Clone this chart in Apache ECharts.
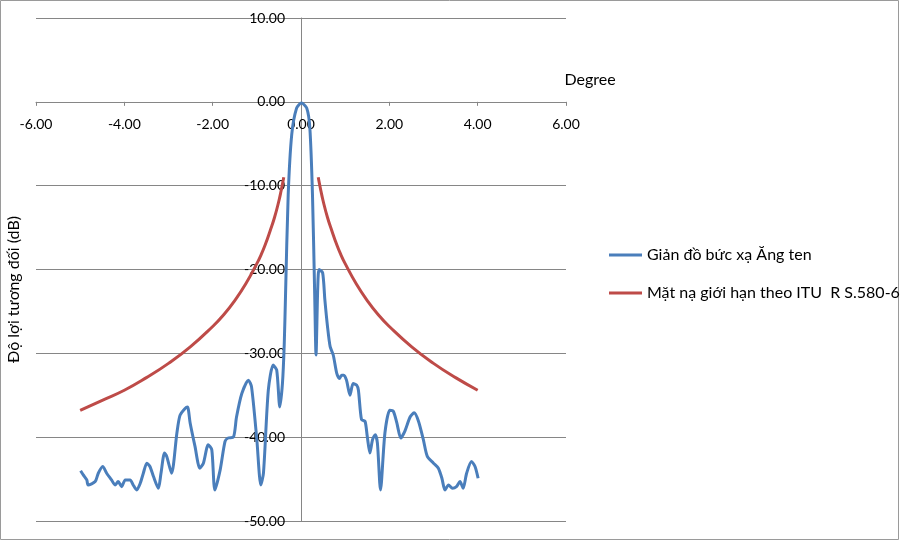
<!DOCTYPE html>
<html lang="vi">
  <head>
    <meta charset="utf-8" />
    <title>Giản đồ bức xạ Ăng ten</title>
    <script src="https://cdn.jsdelivr.net/npm/echarts@6/dist/echarts.min.js"></script>
    <style>
      html, body { margin: 0; padding: 0; background: #fff; }
      #main { width: 900px; height: 542px; }
    </style>
  </head>
  <body>
    <div id="main"></div>
  </body>
  <script>
    // đo bức xạ (độ, dB)
    const patternDeg = [-4.99, -4.93, -4.85, -4.82, -4.66, -4.59, -4.49, -4.40, -4.29, -4.21, -4.14, -4.06,
      -3.98, -3.87, -3.80, -3.72, -3.64, -3.57, -3.49, -3.42, -3.34, -3.23, -3.17, -3.09, -3.04, -2.93,
      -2.81, -2.74, -2.63, -2.57, -2.51, -2.40, -2.29, -2.21, -2.10, -2.02, -1.95, -1.83, -1.72, -1.65,
      -1.53, -1.46, -1.34, -1.19, -1.12, -1.00, -0.91, -0.85, -0.74, -0.63, -0.55, -0.48, -0.42, -0.38,
      -0.35, -0.29, -0.21, -0.10, 0.01, 0.13, 0.20, 0.26, 0.31, 0.34, 0.38, 0.41, 0.49, 0.54, 0.60, 0.66,
      0.73, 0.81, 0.87, 0.92, 0.97, 1.03, 1.11, 1.18, 1.26, 1.30, 1.37, 1.45, 1.50, 1.56, 1.62, 1.68, 1.73,
      1.80, 1.90, 2.01, 2.09, 2.17, 2.26, 2.35, 2.47, 2.56, 2.66, 2.77, 2.86, 3.00, 3.11, 3.19, 3.26, 3.34,
      3.43, 3.52, 3.60, 3.67, 3.75, 3.86, 3.94, 4.01];
    const patternGain = [-44.0, -44.5, -45.1, -45.7, -45.3, -44.3, -43.5, -44.3, -45.1, -45.7, -45.3, -45.9,
      -45.1, -45.1, -45.7, -46.3, -45.5, -44.3, -43.1, -43.5, -44.7, -46.1, -44.3, -41.9, -42.3, -44.3,
      -39.5, -37.4, -36.6, -36.4, -38.3, -41.1, -43.7, -43.1, -40.9, -41.5, -46.3, -43.9, -40.5, -40.1,
      -40.0, -37.6, -34.8, -33.2, -34.0, -40.3, -45.7, -44.3, -34.4, -31.4, -32.0, -36.4, -33.6, -29.0,
      -23.0, -11.1, -3.9, -0.75, -0.15, -0.75, -3.1, -11.1, -23.0, -30.2, -22.0, -20.0, -20.4, -23.6, -26.8, -29.2,
      -30.2, -32.4, -33.0, -32.6, -32.6, -33.2, -35.0, -33.6, -33.8, -34.4, -37.9, -38.1, -39.9, -41.9, -40.3, -39.7, -40.7,
      -46.3, -39.5, -36.8, -36.9, -38.3, -40.1, -39.3, -37.6, -37.1, -38.1, -40.3, -42.3, -43.1, -43.7, -44.9, -46.3, -45.7,
      -46.1, -45.9, -45.3, -46.1, -44.3, -42.9, -43.5, -44.9];

    // mặt nạ ITU-R S.580-6, hai nhánh
    const maskDeg = [-5.0, -4.5, -4.0, -3.5, -3.0, -2.5, -2.0, -1.75, -1.5, -1.25, -1.0, -0.9, -0.8, -0.7,
      -0.6, -0.5, -0.45, -0.39, null, 0.39, 0.45, 0.5, 0.6, 0.7, 0.8, 0.9, 1.0, 1.25, 1.5, 1.75, 2.0, 2.5,
      3.0, 3.5, 4.0];
    const maskGain = [-36.8, -35.6, -34.4, -32.9, -31.2, -29.2, -26.8, -25.4, -23.7, -21.7, -19.3, -18.2,
      -16.9, -15.4, -13.8, -11.8, -10.6, -9.0, null, -9.0, -10.6, -11.8, -13.8, -15.4, -16.9, -18.2, -19.3,
      -21.7, -23.7, -25.4, -26.8, -29.2, -31.2, -32.9, -34.4];

    const xTicks = { min: -6, max: 6, interval: 2 };
    const yTicks = { min: -50, max: 10, interval: 10 };

    const seriesNames = ['Giản đồ bức xạ Ăng ten', 'Mặt nạ giới hạn theo ITU  R S.580-6'];

    const pairs = (xs, ys) => xs.map((x, i) => (x === null ? '-' : [x, ys[i]]));

    const font = 'Lato, "Noto Sans", sans-serif';
    const gridColor = '#868686';

    // plot area in px; axes cross at (0, 0) like the Excel original
    const plot = { left: 36, right: 566, top: 18, bottom: 521 };
    const zeroX = plot.left + (0 - xTicks.min) / (xTicks.max - xTicks.min) * (plot.right - plot.left);
    const zeroY = plot.top + (yTicks.max - 0) / (yTicks.max - yTicks.min) * (plot.bottom - plot.top);

    let chart = echarts.init(document.getElementById('main'), null, { renderer: 'canvas' });
    let option = {
      animation: false,
      backgroundColor: '#fff',
      textStyle: { fontFamily: font },
      grid: {
        left: plot.left, right: 900 - plot.right, top: plot.top, bottom: 542 - plot.bottom,
        containLabel: false, outerBoundsMode: 'none'
      },
      legend: {
        orient: 'vertical',
        left: 604,
        top: 241,
        icon: 'rect',
        itemWidth: 33,
        itemHeight: 3,
        itemGap: 20,
        data: seriesNames,
        textStyle: { fontFamily: font, fontSize: 16, color: '#000', lineHeight: 18 }
      },
      xAxis: {
        type: 'value',
        position: 'bottom',
        offset: zeroY - plot.bottom,
        min: xTicks.min,
        max: xTicks.max,
        interval: xTicks.interval,
        name: 'Degree',
        nameLocation: 'end',
        nameGap: 24,
        nameTextStyle: { fontFamily: font, fontSize: 16, color: '#000', align: 'center', verticalAlign: 'bottom', padding: [0, 0, 14, 0] },
        axisLine: { onZero: false, lineStyle: { color: gridColor, width: 1 } },
        axisTick: { show: true, inside: false, length: 4, lineStyle: { color: gridColor } },
        axisLabel: { margin: 16, fontSize: 14, color: '#000', fontFamily: font, formatter: v => v.toFixed(2) },
        splitLine: { show: false }
      },
      yAxis: {
        type: 'value',
        position: 'left',
        offset: plot.left - zeroX,
        min: yTicks.min,
        max: yTicks.max,
        interval: yTicks.interval,
        name: 'Độ lợi tương đối (dB)',
        nameLocation: 'middle',
        nameGap: zeroX - 22,
        nameRotate: 90,
        nameTextStyle: { fontFamily: font, fontSize: 16, color: '#000', padding: [0, 40, 0, 0] },
        axisLine: { show: true, onZero: false, lineStyle: { color: gridColor, width: 1 } },
        axisTick: { show: false },
        axisLabel: { margin: 16, fontSize: 14, color: '#000', fontFamily: font, formatter: v => v.toFixed(2) },
        splitLine: { show: true, lineStyle: { color: gridColor, width: 1 } }
      },
      series: [
        {
          name: seriesNames[0],
          type: 'line',
          data: pairs(patternDeg, patternGain),
          showSymbol: false,
          smooth: 0.25,
          lineStyle: { color: '#4a7ebb', width: 3 },
          itemStyle: { color: '#4a7ebb' }
        },
        {
          name: seriesNames[1],
          type: 'line',
          data: pairs(maskDeg, maskGain),
          showSymbol: false,
          smooth: true,
          connectNulls: false,
          lineStyle: { color: '#be4b48', width: 3 },
          itemStyle: { color: '#be4b48' }
        }
      ],
      graphic: [
        {
          type: 'rect',
          shape: { x: 0.5, y: 0.5, width: 898, height: 539 },
          style: { fill: 'none', stroke: '#9a9a9a', lineWidth: 1 },
          silent: true
        }
      ]
    };
    chart.setOption(option);
  </script>
</html>
